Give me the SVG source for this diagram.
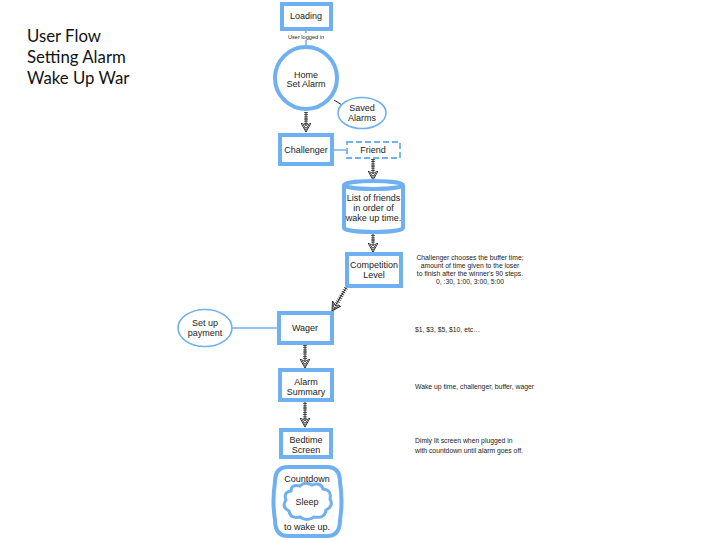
<svg xmlns="http://www.w3.org/2000/svg" width="720" height="540" viewBox="0 0 720 540">
<defs>
<style>
.n{fill:#fff;stroke:#6fb0f0;stroke-width:4}
.t{font-family:"Liberation Sans",Arial,sans-serif;font-size:9px;fill:#222;text-anchor:middle}
.s{font-family:"Liberation Sans",Arial,sans-serif;font-size:6.8px;fill:#222}
.ti{font-family:Lato,"Open Sans",sans-serif;font-size:16.8px;fill:#111}
.th{fill:#fff;stroke:#6fb0f0;stroke-width:1.6}
.ln{stroke:#6fb0f0;stroke-width:1.5;fill:none}
.sh{stroke:#222;stroke-width:1;fill:none}
.hz{stroke:#333;stroke-width:4;stroke-dasharray:0.8 1.4;fill:none}
</style>
<marker id="ah" viewBox="0 0 10 10" refX="9" refY="5" markerWidth="10" markerHeight="10" markerUnits="userSpaceOnUse" orient="auto">
<path d="M0,0 L9,5 L0,10 L2.5,5 Z" fill="#fff" stroke="#222" stroke-width="0.9"/>
<path d="M2,2 L5,5 L2,8 M4,3 L7,5 L4,7" fill="none" stroke="#222" stroke-width="0.7"/>
</marker>
</defs>
<g id="title">
<text class="ti" x="27" y="42">User Flow</text>
<text class="ti" x="27" y="63">Setting Alarm</text>
<text class="ti" x="27" y="84">Wake Up War</text>
</g>
<g id="connectors">
<line class="ln" x1="306" y1="30" x2="306" y2="33"/>
<line class="ln" x1="306" y1="40" x2="306" y2="46"/>
<line x1="334" y1="100" x2="342" y2="105" stroke="#222" stroke-width="1"/>
<line class="ln" x1="334" y1="150" x2="346" y2="150"/>
<line class="ln" x1="232" y1="328" x2="277" y2="328"/>
<g>
<line class="hz" x1="306" y1="112" x2="306" y2="124"/>
<line class="sh" x1="306" y1="112" x2="306" y2="132" marker-end="url(#ah)"/>
<line class="hz" x1="373" y1="159" x2="373" y2="172"/>
<line class="sh" x1="373" y1="159" x2="373" y2="180" marker-end="url(#ah)"/>
<line class="hz" x1="373" y1="233" x2="373" y2="244"/>
<line class="sh" x1="373" y1="233" x2="373" y2="252" marker-end="url(#ah)"/>
<line class="hz" x1="346" y1="288" x2="336" y2="305"/>
<line class="sh" x1="346" y1="288" x2="332" y2="311" marker-end="url(#ah)"/>
<line class="hz" x1="305" y1="345" x2="305" y2="360"/>
<line class="sh" x1="305" y1="345" x2="305" y2="368" marker-end="url(#ah)"/>
<line class="hz" x1="305" y1="401" x2="305" y2="419"/>
<line class="sh" x1="305" y1="401" x2="305" y2="427" marker-end="url(#ah)"/>
</g>
</g>
<g id="loading">
<rect class="n" x="282" y="4" width="49" height="25"/>
<text class="t" x="306" y="19">Loading</text>
<text class="t" x="306" y="39" style="font-size:5.6px">User logged in</text>
</g>
<g id="home">
<circle class="n" cx="306" cy="78" r="31"/>
<text class="t" x="306" y="78">Home</text>
<text class="t" x="306" y="87">Set Alarm</text>
</g>
<g id="saved">
<ellipse class="th" cx="362" cy="113" rx="24" ry="15.5"/>
<text class="t" x="362" y="111">Saved</text>
<text class="t" x="362" y="121">Alarms</text>
</g>
<g id="challenger">
<rect class="n" x="280" y="135" width="52" height="29"/>
<text class="t" x="306" y="153">Challenger</text>
</g>
<g id="friend">
<rect x="347" y="142" width="53" height="16" fill="#fff" stroke="#6fb0f0" stroke-width="1.8" stroke-dasharray="6 3"/>
<text class="t" x="373" y="153">Friend</text>
</g>
<g id="friends-list">
<path class="n" d="M344,185 A29.5,4 0 0,1 403,185 V228 A29.5,4 0 0,1 344,228 Z"/>
<path d="M344,185 A29.5,4 0 0,0 403,185" fill="none" stroke="#6fb0f0" stroke-width="4"/>
<text class="t" x="373.5" y="201">List of friends</text>
<text class="t" x="373.5" y="211">in order of</text>
<text class="t" x="373.5" y="221">wake up time.</text>
</g>
<g id="competition">
<rect class="n" x="347" y="254" width="54" height="32"/>
<text class="t" x="374" y="268">Competition</text>
<text class="t" x="374" y="278">Level</text>
<text class="s" x="470" y="260" text-anchor="middle">Challenger chooses the buffer time;</text>
<text class="s" x="470" y="268" text-anchor="middle">amount of time given to the loser</text>
<text class="s" x="470" y="276" text-anchor="middle">to finish after the winner's 90 steps.</text>
<text class="s" x="470" y="284" text-anchor="middle">0, :30, 1:00, 3:00, 5:00</text>
</g>
<g id="wager">
<rect class="n" x="279" y="313" width="53" height="30"/>
<text class="t" x="305" y="331">Wager</text>
<text class="s" x="415" y="332">$1, $3, $5, $10, etc…</text>
</g>
<g id="payment">
<ellipse class="th" cx="205" cy="328" rx="27" ry="18.5"/>
<text class="t" x="205" y="326">Set up</text>
<text class="t" x="205" y="336">payment</text>
</g>
<g id="summary">
<rect class="n" x="280" y="370" width="52" height="30"/>
<text class="t" x="306" y="385">Alarm</text>
<text class="t" x="306" y="395">Summary</text>
<text class="s" x="415" y="389">Wake up time, challenger, buffer, wager</text>
</g>
<g id="bedtime">
<rect class="n" x="281" y="430" width="50" height="27"/>
<text class="t" x="306" y="443">Bedtime</text>
<text class="t" x="306" y="453">Screen</text>
<text class="s" x="415" y="443">Dimly lit screen when plugged in</text>
<text class="s" x="415" y="453">with countdown until alarm goes off.</text>
</g>
<g id="countdown">
<path class="n" d="M288,467 H327 Q340,467 340,482 Q343,501 340,520 Q340,536 327,536 H288 Q275,536 275,520 Q272,501 275,482 Q275,467 288,467 Z"/>
<text class="t" x="307" y="482">Countdown</text>
<text class="t" x="307" y="530">to wake up.</text>
</g>
<g id="sleep">
<path d="M291,491 Q291,484 300,486 Q305,481 312,485 Q321,482 323,489 Q332,490 330,499 Q334,506 326,510 Q325,519 314,517 Q307,522 300,517 Q290,519 289,511 Q281,507 286,500 Q283,492 291,491 Z" fill="#fff" stroke="#6fb0f0" stroke-width="3"/>
<text class="t" x="307" y="505">Sleep</text>
</g>
</svg>
